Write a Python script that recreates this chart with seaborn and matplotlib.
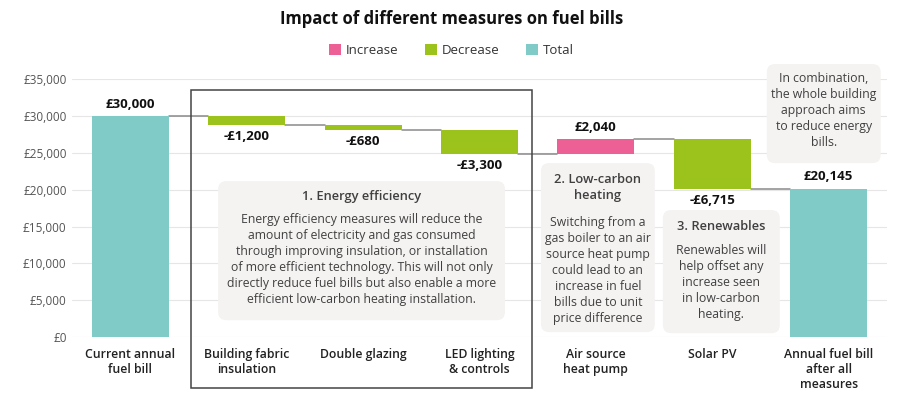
"""
Waterfall chart: impact of different measures on fuel bills.
"""

import numpy as np
import pandas as pd
import matplotlib
matplotlib.use("Agg")
import matplotlib.pyplot as plt
from matplotlib.patches import Patch, Rectangle, FancyBboxPatch
import seaborn as sns

# --- data -------------------------------------------------------------
categories = [
    "Current annual\nfuel bill",
    "Building fabric\ninsulation",
    "Double glazing",
    "LED lighting\n& controls",
    "Air source\nheat pump",
    "Solar PV",
    "Annual fuel bill\nafter all\nmeasures",
]
changes = [30000, -1200, -680, -3300, 2040, -6715, 20145]
kinds = ["Total", "Decrease", "Decrease", "Decrease", "Increase", "Decrease", "Total"]
value_labels = ["£30,000", "-£1,200", "-£680", "-£3,300", "£2,040", "-£6,715", "£20,145"]
y_ticks = [0, 5000, 10000, 15000, 20000, 25000, 30000, 35000]

COLORS = {"Increase": "#ec6096", "Decrease": "#9bc31c", "Total": "#80cbc7"}
BOX_FC = "#f5f3f2"
TEXT_C = "#404040"

# running totals -> bar bottoms / heights
bottoms, heights, level = [], [], 0
for c, k in zip(changes, kinds):
    if k == "Total":
        bottoms.append(0)
        heights.append(c)
        level = c
    else:
        new = level + c
        bottoms.append(min(level, new))
        heights.append(abs(c))
        level = new
df = pd.DataFrame({"category": categories, "height": heights,
                   "bottom": bottoms, "kind": kinds})

# --- figure -----------------------------------------------------------
sns.set_theme(style="white")
plt.rcParams["font.family"] = ["Open Sans", "DejaVu Sans"]

fig = plt.figure(figsize=(9.03, 3.99), dpi=100)
ax = fig.add_axes([0.08, 0.155, 0.902, 0.647])

width = 0.66
sns.barplot(data=df, x="category", y="height", bottom=df["bottom"].values,
            color=COLORS["Total"], width=width, ax=ax, zorder=2)
for patch, k in zip(ax.patches, kinds):
    patch.set_facecolor(COLORS[k])
    patch.set_edgecolor("none")

ax.set_xlim(-0.5, len(categories) - 0.5)
ax.set_ylim(0, 35000)
ax.set_yticks(y_ticks)
ax.set_yticklabels([f"£{v:,.0f}" for v in y_ticks], fontsize=8.5, color="#555555")
ax.yaxis.grid(True, color="#e6e6e6", linewidth=0.8, zorder=0)
ax.set_axisbelow(True)
for s in ax.spines.values():
    s.set_visible(False)
ax.tick_params(axis="both", length=0, pad=4)
ax.tick_params(axis="x", pad=8)
ax.set_xticks(range(len(categories)))
ax.set_xticklabels(categories, fontsize=8.8, fontweight="semibold", color="#222222",
                   linespacing=1.2)
ax.set_xlabel("")
ax.set_ylabel("")

# connectors between bars
level = 0
for i, (c, k) in enumerate(zip(changes, kinds)):
    level = c if k == "Total" else level + c
    if i < len(changes) - 1:
        ax.plot([i + width / 2, i + 1 - width / 2], [level, level],
                color="#8a8a8a", linewidth=1.1, zorder=1)

# value labels
for i, (c, k, lab) in enumerate(zip(changes, kinds, value_labels)):
    top = bottoms[i] + heights[i]
    if c >= 0:
        ax.text(i, top + 700, lab, ha="center", va="bottom",
                fontsize=9.5, fontweight="bold", color="#111111")
    else:
        ax.text(i, bottoms[i] - 700, lab, ha="center", va="top",
                fontsize=9.5, fontweight="bold", color="#111111")

# energy efficiency group frame
fig.add_artist(Rectangle((0.2115, 0.0276), 0.3776, 0.7469, transform=fig.transFigure,
                         fill=False, edgecolor="#444444", linewidth=1.1))


def note(x0, x1, y0, y1, title, body, title_y, body_y):
    box = FancyBboxPatch((x0, y0), x1 - x0, y1 - y0,
                         boxstyle="round,pad=0,rounding_size=0.07",
                         mutation_aspect=15800, facecolor=BOX_FC,
                         edgecolor="none", zorder=3, clip_on=False)
    ax.add_patch(box)
    xc = (x0 + x1) / 2
    if title:
        ax.text(xc, title_y, title, ha="center", va="top", fontsize=9.3,
                fontweight="semibold", color=TEXT_C, zorder=4, linespacing=1.3)
    ax.text(xc, body_y, body, ha="center", va="top", fontsize=8.8,
            color=TEXT_C, zorder=4, linespacing=1.3, clip_on=False)


note(0.754, 3.219, 2300, 21160, "1. Energy efficiency",
     "Energy efficiency measures will reduce the\n"
     "amount of electricity and gas consumed\n"
     "through improving insulation, or installation\n"
     "of more efficient technology. This will not only\n"
     "directly reduce fuel bills but also enable a more\n"
     "efficient low-carbon heating installation.",
     19900, 16900)
note(3.528, 4.507, 680, 23600, "2. Low-carbon\nheating",
     "Switching from a\ngas boiler to an air\nsource heat pump\n"
     "could lead to an\nincrease in fuel\nbills due to unit\nprice difference",
     22300, 16400)
note(4.576, 5.581, 540, 17230, "3. Renewables",
     "Renewables will\nhelp offset any\nincrease seen\nin low-carbon\nheating.",
     15900, 12600)
note(5.469, 6.448, 23600, 37030, None,
     "In combination,\nthe whole building\napproach aims\nto reduce energy\nbills.",
     0, 36000)

# legend
handles = [Patch(facecolor=COLORS[k], edgecolor="none", label=k)
           for k in ["Increase", "Decrease", "Total"]]
fig.legend(handles=handles, loc="center", bbox_to_anchor=(0.5, 0.873), ncol=3,
           frameon=False, fontsize=9.5, handlelength=0.9, handleheight=0.9,
           handletextpad=0.4, columnspacing=2.0, labelcolor="#333333")

fig.suptitle("Impact of different measures on fuel bills", x=0.5, y=0.975,
             fontsize=12, fontweight="bold", color="#111111")

fig.savefig("out.png", dpi=100)
plt.close()
